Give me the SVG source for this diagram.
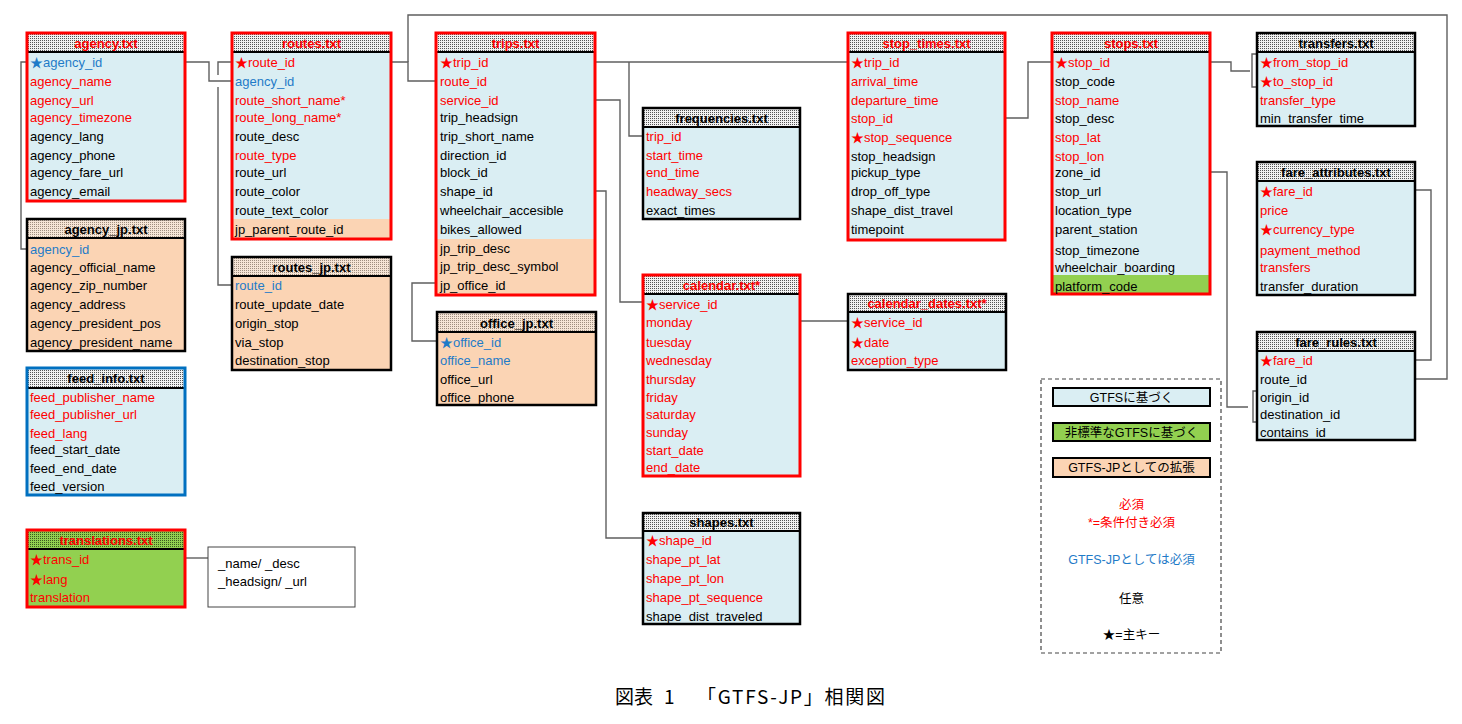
<svg xmlns="http://www.w3.org/2000/svg" width="1462" height="724" viewBox="0 0 1462 724">
<style>
text{font-family:"Liberation Sans","Noto Sans CJK JP",Arial,sans-serif;font-size:13px}
.h{font-weight:bold;text-anchor:middle}
.r{fill:#ff0000}.b{fill:#1f7bc8}.k{fill:#000}
.body{fill:#daeef3}.or{fill:#fbd4b4}.gr{fill:#92d050}
.hd{fill:url(#dots)}.hdg{fill:url(#dotsg)}
.br{fill:none;stroke:#ff0000;stroke-width:3}
.bk{fill:none;stroke:#000;stroke-width:2.5}
.bb{fill:none;stroke:#0070c0;stroke-width:3}
.sep{stroke:#000;stroke-width:2}
.c{fill:none;stroke:#5f5f5f;stroke-width:1.4}
.lg{text-anchor:middle;font-size:12.5px}
</style>
<defs>
<pattern id="dots" width="2" height="2" patternUnits="userSpaceOnUse"><rect width="2" height="2" fill="#f2f2f2"/><rect width="1" height="1" fill="#555"/></pattern>
<pattern id="dotsg" width="2" height="2" patternUnits="userSpaceOnUse"><rect width="2" height="2" fill="#92d050"/><rect width="1" height="1" fill="#3c5a20"/></pattern>
</defs>
<rect width="1462" height="724" fill="#fff"/>

<g id="connectors">
<path class="c" d="M185,62 H209 V81 H232"/>
<path class="c" d="M27,62 H21 V249 H27"/>
<path class="c" d="M232,62 H218 V75 M218,87 V285 H232"/>
<path class="c" d="M391,62 H408 V81 H436"/>
<path class="c" d="M408,62 V15 H1447 V379 H1415"/>
<path class="c" d="M595,62 H848"/>
<path class="c" d="M629,62 V136 H643"/>
<path class="c" d="M595,100 H620 V302 H643"/>
<path class="c" d="M595,191 H606 V538 H643"/>
<path class="c" d="M436,283 H412 V341 H437"/>
<path class="c" d="M800,321 H848"/>
<path class="c" d="M1005,118 H1028 V62 H1052"/>
<path class="c" d="M1210,62 H1231 V71 H1250 M1257,54 H1252 V87 H1257"/>
<path class="c" d="M1210,172 H1227 V407 H1248 M1257,391 H1253 V422 H1257"/>
<path class="c" d="M1415,190 H1431 V360 H1415"/>
<path class="c" d="M185,558 H208"/>
</g>

<g id="agency">
<rect class="body" x="27" y="33" width="158" height="168"/>
<rect class="hd" x="27" y="33" width="158" height="19"/>
<line class="sep" x1="27" y1="52" x2="185" y2="52"/>
<rect class="br" x="27" y="33" width="158" height="168"/>
<text class="h r" x="106" y="48">agency.txt</text>
<text x="30" y="67" class="b">★agency_id</text>
<text x="30" y="86" class="r">agency_name</text>
<text x="30" y="105" class="r">agency_url</text>
<text x="30" y="122" class="r">agency_timezone</text>
<text x="30" y="141">agency_lang</text>
<text x="30" y="160">agency_phone</text>
<text x="30" y="177">agency_fare_url</text>
<text x="30" y="196">agency_email</text>
</g>

<g id="routes">
<rect class="body" x="232" y="33" width="159" height="206"/>
<rect class="or" x="232" y="219" width="159" height="20"/>
<rect class="hd" x="232" y="33" width="159" height="19"/>
<line class="sep" x1="232" y1="52" x2="391" y2="52"/>
<rect class="br" x="232" y="33" width="159" height="206"/>
<text class="h r" x="311.5" y="48">routes.txt</text>
<text x="235" y="67" class="r">★route_id</text>
<text x="235" y="86" class="b">agency_id</text>
<text x="235" y="105" class="r">route_short_name*</text>
<text x="235" y="122" class="r">route_long_name*</text>
<text x="235" y="141">route_desc</text>
<text x="235" y="160" class="r">route_type</text>
<text x="235" y="177">route_url</text>
<text x="235" y="196">route_color</text>
<text x="235" y="215">route_text_color</text>
<text x="235" y="234">jp_parent_route_id</text>
</g>

<g id="agency_jp">
<rect class="or" x="27" y="219" width="158" height="132"/>
<rect class="hd" x="27" y="219" width="158" height="19" style="fill:url(#dots)"/>
<rect x="27" y="219" width="158" height="19" fill="#fbd4b4" opacity="0.45"/>
<line class="sep" x1="27" y1="238" x2="185" y2="238"/>
<rect class="bk" x="27" y="219" width="158" height="132"/>
<text class="h" x="106" y="234">agency_jp.txt</text>
<text x="30" y="254" class="b">agency_id</text>
<text x="30" y="272">agency_official_name</text>
<text x="30" y="290">agency_zip_number</text>
<text x="30" y="309">agency_address</text>
<text x="30" y="328">agency_president_pos</text>
<text x="30" y="347">agency_president_name</text>
</g>

<g id="routes_jp">
<rect class="or" x="232" y="257" width="159" height="113"/>
<rect class="hd" x="232" y="257" width="159" height="19"/>
<rect x="232" y="257" width="159" height="19" fill="#fbd4b4" opacity="0.45"/>
<line class="sep" x1="232" y1="276" x2="391" y2="276"/>
<rect class="bk" x="232" y="257" width="159" height="113"/>
<text class="h" x="311.5" y="272">routes_jp.txt</text>
<text x="235" y="290" class="b">route_id</text>
<text x="235" y="309">route_update_date</text>
<text x="235" y="328">origin_stop</text>
<text x="235" y="347">via_stop</text>
<text x="235" y="365">destination_stop</text>
</g>

<g id="feed_info">
<rect class="body" x="27" y="368" width="158" height="127"/>
<rect class="hd" x="27" y="368" width="158" height="20"/>
<line class="sep" x1="27" y1="388" x2="185" y2="388"/>
<rect class="bb" x="27" y="368" width="158" height="127"/>
<text class="h" x="106" y="383">feed_info.txt</text>
<text x="30" y="402" class="r">feed_publisher_name</text>
<text x="30" y="419" class="r">feed_publisher_url</text>
<text x="30" y="438" class="r">feed_lang</text>
<text x="30" y="454">feed_start_date</text>
<text x="30" y="473">feed_end_date</text>
<text x="30" y="491">feed_version</text>
</g>

<g id="translations">
<rect class="gr" x="27" y="530" width="158" height="77"/>
<rect class="hdg" x="27" y="530" width="158" height="19"/>
<line class="sep" x1="27" y1="549" x2="185" y2="549"/>
<rect class="br" x="27" y="530" width="158" height="77"/>
<text class="h r" x="106" y="545">translations.txt</text>
<text x="30" y="564" class="r">★trans_id</text>
<text x="30" y="584" class="r">★lang</text>
<text x="30" y="602" class="r">translation</text>
</g>

<g id="translation_note">
<rect x="208" y="547" width="147" height="60" fill="#fff" stroke="#444" stroke-width="1"/>
<text x="218" y="568">_name/ _desc</text>
<text x="218" y="586">_headsign/ _url</text>
</g>

<g id="trips">
<rect class="body" x="436" y="33" width="159" height="262"/>
<rect class="or" x="436" y="239" width="159" height="56"/>
<rect class="hd" x="436" y="33" width="159" height="19"/>
<line class="sep" x1="436" y1="52" x2="595" y2="52"/>
<rect class="br" x="436" y="33" width="159" height="262"/>
<text class="h r" x="515.5" y="48">trips.txt</text>
<text x="440" y="67" class="r">★trip_id</text>
<text x="440" y="86" class="r">route_id</text>
<text x="440" y="105" class="r">service_id</text>
<text x="440" y="122">trip_headsign</text>
<text x="440" y="141">trip_short_name</text>
<text x="440" y="160">direction_id</text>
<text x="440" y="177">block_id</text>
<text x="440" y="196">shape_id</text>
<text x="440" y="215">wheelchair_accesible</text>
<text x="440" y="234">bikes_allowed</text>
<text x="440" y="253">jp_trip_desc</text>
<text x="440" y="271">jp_trip_desc_symbol</text>
<text x="440" y="290">jp_office_id</text>
</g>

<g id="office_jp">
<rect class="or" x="437" y="312" width="159" height="93"/>
<rect class="hd" x="437" y="312" width="159" height="20"/>
<rect x="437" y="312" width="159" height="20" fill="#fbd4b4" opacity="0.45"/>
<line class="sep" x1="437" y1="332" x2="596" y2="332"/>
<rect class="bk" x="437" y="312" width="159" height="93"/>
<text class="h" x="516.5" y="328">office_jp.txt</text>
<text x="440" y="347" class="b">★office_id</text>
<text x="440" y="365" class="b">office_name</text>
<text x="440" y="384">office_url</text>
<text x="440" y="402">office_phone</text>
</g>

<g id="frequencies">
<rect class="body" x="643" y="108" width="157" height="111"/>
<rect class="hd" x="643" y="108" width="157" height="19"/>
<line class="sep" x1="643" y1="127" x2="800" y2="127"/>
<rect class="bk" x="643" y="108" width="157" height="111"/>
<text class="h" x="721.5" y="123">frequencies.txt</text>
<text x="646" y="141" class="r">trip_id</text>
<text x="646" y="160" class="r">start_time</text>
<text x="646" y="177" class="r">end_time</text>
<text x="646" y="196" class="r">headway_secs</text>
<text x="646" y="215">exact_times</text>
</g>

<g id="calendar">
<rect class="body" x="643" y="275" width="157" height="201"/>
<rect class="hd" x="643" y="275" width="157" height="19"/>
<line class="sep" x1="643" y1="294" x2="800" y2="294"/>
<rect class="br" x="643" y="275" width="157" height="201"/>
<text class="h r" x="721.5" y="290">calendar.txt*</text>
<text x="646" y="309" class="r">★service_id</text>
<text x="646" y="327" class="r">monday</text>
<text x="646" y="347" class="r">tuesday</text>
<text x="646" y="365" class="r">wednesday</text>
<text x="646" y="384" class="r">thursday</text>
<text x="646" y="402" class="r">friday</text>
<text x="646" y="419" class="r">saturday</text>
<text x="646" y="437" class="r">sunday</text>
<text x="646" y="455" class="r">start_date</text>
<text x="646" y="472" class="r">end_date</text>
</g>

<g id="shapes">
<rect class="body" x="643" y="513" width="157" height="111"/>
<rect class="hd" x="643" y="513" width="157" height="18"/>
<line class="sep" x1="643" y1="531" x2="800" y2="531"/>
<rect class="bk" x="643" y="513" width="157" height="111"/>
<text class="h" x="721.5" y="527">shapes.txt</text>
<text x="646" y="545" class="r">★shape_id</text>
<text x="646" y="564" class="r">shape_pt_lat</text>
<text x="646" y="583" class="r">shape_pt_lon</text>
<text x="646" y="602" class="r">shape_pt_sequence</text>
<text x="646" y="621">shape_dist_traveled</text>
</g>

<g id="stop_times">
<rect class="body" x="848" y="33" width="157" height="207"/>
<rect class="hd" x="848" y="33" width="157" height="19"/>
<line class="sep" x1="848" y1="52" x2="1005" y2="52"/>
<rect class="br" x="848" y="33" width="157" height="207"/>
<text class="h r" x="926.5" y="48">stop_times.txt</text>
<text x="851" y="67" class="r">★trip_id</text>
<text x="851" y="86" class="r">arrival_time</text>
<text x="851" y="105" class="r">departure_time</text>
<text x="851" y="123" class="r">stop_id</text>
<text x="851" y="142" class="r">★stop_sequence</text>
<text x="851" y="161">stop_headsign</text>
<text x="851" y="177">pickup_type</text>
<text x="851" y="196">drop_off_type</text>
<text x="851" y="215">shape_dist_travel</text>
<text x="851" y="234">timepoint</text>
</g>

<g id="calendar_dates">
<rect class="body" x="848" y="294" width="158" height="76"/>
<rect class="hd" x="848" y="294" width="158" height="18"/>
<line class="sep" x1="848" y1="312" x2="1006" y2="312"/>
<rect class="bk" x="848" y="294" width="158" height="76"/>
<text class="h r" x="927" y="308">calendar_dates.txt*</text>
<text x="851" y="327" class="r">★service_id</text>
<text x="851" y="347" class="r">★date</text>
<text x="851" y="365" class="r">exception_type</text>
</g>

<g id="stops">
<rect class="body" x="1052" y="33" width="158" height="261"/>
<rect class="gr" x="1052" y="275" width="158" height="19"/>
<rect class="hd" x="1052" y="33" width="158" height="19"/>
<line class="sep" x1="1052" y1="52" x2="1210" y2="52"/>
<rect class="br" x="1052" y="33" width="158" height="261"/>
<text class="h r" x="1131" y="48">stops.txt</text>
<text x="1055" y="67" class="r">★stop_id</text>
<text x="1055" y="86">stop_code</text>
<text x="1055" y="105" class="r">stop_name</text>
<text x="1055" y="123">stop_desc</text>
<text x="1055" y="142" class="r">stop_lat</text>
<text x="1055" y="161" class="r">stop_lon</text>
<text x="1055" y="177">zone_id</text>
<text x="1055" y="196">stop_url</text>
<text x="1055" y="215">location_type</text>
<text x="1055" y="234">parent_station</text>
<text x="1055" y="255">stop_timezone</text>
<text x="1055" y="272">wheelchair_boarding</text>
<text x="1055" y="291">platform_code</text>
</g>

<g id="transfers">
<rect class="body" x="1257" y="33" width="158" height="93"/>
<rect class="hd" x="1257" y="33" width="158" height="19"/>
<line class="sep" x1="1257" y1="52" x2="1415" y2="52"/>
<rect class="bk" x="1257" y="33" width="158" height="93"/>
<text class="h" x="1336" y="48">transfers.txt</text>
<text x="1260" y="67" class="r">★from_stop_id</text>
<text x="1260" y="86" class="r">★to_stop_id</text>
<text x="1260" y="105" class="r">transfer_type</text>
<text x="1260" y="123">min_transfer_time</text>
</g>

<g id="fare_attributes">
<rect class="body" x="1257" y="162" width="158" height="133"/>
<rect class="hd" x="1257" y="162" width="158" height="19"/>
<line class="sep" x1="1257" y1="181" x2="1415" y2="181"/>
<rect class="bk" x="1257" y="162" width="158" height="133"/>
<text class="h" x="1336" y="177">fare_attributes.txt</text>
<text x="1260" y="196" class="r">★fare_id</text>
<text x="1260" y="215" class="r">price</text>
<text x="1260" y="234" class="r">★currency_type</text>
<text x="1260" y="255" class="r">payment_method</text>
<text x="1260" y="272" class="r">transfers</text>
<text x="1260" y="291">transfer_duration</text>
</g>

<g id="fare_rules">
<rect class="body" x="1257" y="332" width="158" height="108"/>
<rect class="hd" x="1257" y="332" width="158" height="19"/>
<line class="sep" x1="1257" y1="351" x2="1415" y2="351"/>
<rect class="bk" x="1257" y="332" width="158" height="108"/>
<text class="h" x="1336" y="347">fare_rules.txt</text>
<text x="1260" y="365" class="r">★fare_id</text>
<text x="1260" y="384">route_id</text>
<text x="1260" y="402">origin_id</text>
<text x="1260" y="419">destination_id</text>
<text x="1260" y="437">contains_id</text>
</g>

<g id="legend">
<rect x="1041" y="379" width="180" height="274" fill="none" stroke="#444" stroke-width="1.2" stroke-dasharray="4,3"/>
<rect x="1053" y="388" width="157" height="18" fill="#daeef3" stroke="#000" stroke-width="2"/>
<text class="lg" x="1131.5" y="401.5">GTFSに基づく</text>
<rect x="1053" y="423" width="157" height="18" fill="#92d050" stroke="#000" stroke-width="2"/>
<text class="lg" x="1131.5" y="436.5">非標準なGTFSに基づく</text>
<rect x="1053" y="458" width="157" height="19" fill="#fbd4b4" stroke="#000" stroke-width="2"/>
<text class="lg" x="1131.5" y="472">GTFS-JPとしての拡張</text>
<text class="lg r" x="1131.5" y="509">必須</text>
<text class="lg r" x="1131.5" y="527">*=条件付き必須</text>
<text class="lg b" x="1131.5" y="564">GTFS-JPとしては必須</text>
<text class="lg" x="1131.5" y="603">任意</text>
<text class="lg" x="1131.5" y="639">★=主キー</text>
</g>

<g id="caption">
<text style="font-family:'Noto Sans CJK JP',sans-serif;font-size:19px" y="704"><tspan x="615">図表</tspan><tspan x="664">1</tspan><tspan x="697" textLength="188" lengthAdjust="spacing">「GTFS-JP」相関図</tspan></text>
</g>
</svg>
